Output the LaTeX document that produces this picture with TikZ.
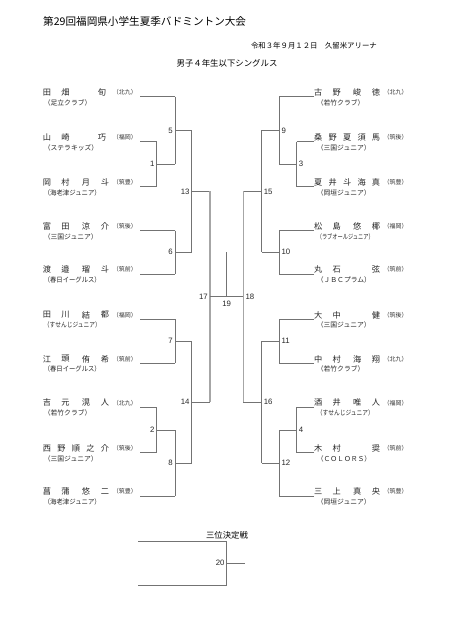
\documentclass[tikz,border=0pt]{standalone}
\usepackage{fontspec}
\usepackage{graphicx}
\setmainfont{Noto Sans CJK JP}
\newfontfamily\latf{Liberation Sans}
\newcommand\clubfit[1]{\sbox0{#1}\ifdim\wd0>57pt\resizebox{57pt}{\height}{\usebox0}\else\usebox0\fi}
\tikzset{
  nm/.style={font=\fontsize{8.2}{8.2}\selectfont, inner sep=0pt, text=black!85},
  aff/.style={font=\fontsize{6}{6}\selectfont, inner sep=0pt, text=black!80},
  club/.style={font=\fontsize{6.8}{6.8}\selectfont, inner sep=0pt, text=black!85},
  mlab/.style={font=\latf\fontsize{7.8}{7.8}\selectfont, inner sep=0pt, text=black!85},
  br/.style={draw=black!55, line width=0.7pt},
  brthick/.style={draw=black!35, line width=1.5pt},
}
% left player: id, line y, chars (x/char), affiliation, club
\newcommand\pL[5]{%
  \foreach \xx/\cc [count=\k] in {#3} {\node[nm] (#1c\k) at (\xx,{#2-4.4}) {\cc};}
  \node[aff,anchor=east] (#1a) at (137,{#2-4.4}) {（#4）};
  \node[club,anchor=west] (#1b) at (43.6,{#2+6}) {\clubfit{（#5）}};
  \coordinate (#1s) at (140,#2);
}
\newcommand\pR[5]{%
  \foreach \xx/\cc [count=\k] in {#3} {\node[nm] (#1c\k) at (\xx,{#2-4.4}) {\cc};}
  \node[aff,anchor=west] (#1a) at (383.5,{#2-4.4}) {（#4）};
  \node[club,anchor=west] (#1b) at (316.6,{#2+6}) {\clubfit{（#5）}};
  \coordinate (#1s) at (314,#2);
}
\begin{document}
\begin{tikzpicture}[x=1pt,y=-1pt]
\path[use as bounding box, fill=white] (0,0) rectangle (453,640);

% headings
\node[font=\fontsize{10.6}{10.6}\selectfont, inner sep=0pt, anchor=west] (title) at (43,21) {第29回福岡県小学生夏季バドミントン大会};
\node[font=\fontsize{7.4}{7.4}\selectfont, inner sep=0pt, anchor=east] (date) at (377,46) {令和３年９月１２日　久留米アリーナ};
\node[font=\fontsize{8.4}{8.4}\selectfont, inner sep=0pt] (sub) at (227,63.3) {男子４年生以下シングルス};

% left players
\pL{L1}{96.7}{47/田,65.5/畑,102/旬}{北九}{足立クラブ}
\pL{L2}{141.7}{47/山,65.5/崎,102/巧}{福岡}{ステラキッズ}
\pL{L3}{186.7}{47/岡,65.5/村,86/月,105/斗}{筑豊}{海老津ジュニア}
\pL{L4}{230.7}{47/富,65.5/田,86/涼,105/介}{筑後}{三国ジュニア}
\pL{L5}{274.0}{47/渡,65.5/邉,86/瑠,105/斗}{筑前}{春日イーグルス}
\pL{L6}{319.3}{47/田,65.5/川,86/結,105/都}{福岡}{すせんじジュニア}
\pL{L7}{363.3}{47/江,65.5/頭,86/侑,105/希}{筑前}{春日イーグルス}
\pL{L8}{407.3}{47/吉,65.5/元,86/滉,105/人}{北九}{若竹クラブ}
\pL{L9}{452.7}{47/西,61.5/野,76/順,90.5/之,105/介}{筑後}{三国ジュニア}
\pL{L10}{496.0}{47/菖,65.5/蒲,86/悠,105/二}{筑豊}{海老津ジュニア}

% right players
\pR{R1}{96.7}{318.3/古,336.8/野,357.2/峻,376/徳}{北九}{若竹クラブ}
\pR{R2}{141.7}{318.3/桑,332.8/野,347.2/夏,361.7/須,376/馬}{筑後}{三国ジュニア}
\pR{R3}{186.7}{318.3/夏,332.8/井,347.2/斗,361.7/海,376/真}{筑豊}{岡垣ジュニア}
\pR{R4}{230.7}{318.3/松,336.8/島,357.2/悠,376/椰}{福岡}{ラブオールジュニア}
\pR{R5}{274.0}{318.3/丸,336.8/石,376/弦}{筑前}{ＪＢＣプラム}
\pR{R6}{319.3}{318.3/大,336.8/中,376/健}{筑後}{三国ジュニア}
\pR{R7}{363.3}{318.3/中,336.8/村,357.2/海,376/翔}{北九}{若竹クラブ}
\pR{R8}{407.3}{318.3/酒,336.8/井,357.2/唯,376/人}{福岡}{すせんじジュニア}
\pR{R9}{452.7}{318.3/木,336.8/村,376/奨}{筑前}{ＣＯＬＯＲＳ}
\pR{R10}{496.0}{318.3/三,336.8/上,357.2/真,376/央}{筑豊}{岡垣ジュニア}

% ---------- left bracket coordinates ----------
\coordinate (L1e) at (175,96.7);
\coordinate (L2e) at (156.7,141.7);
\coordinate (L3e) at (156.7,186.7);
\coordinate (L4e) at (175,230.7);
\coordinate (L5e) at (175,274.0);
\coordinate (L6e) at (175,319.3);
\coordinate (L7e) at (175,363.3);
\coordinate (L8e) at (156.7,407.3);
\coordinate (L9e) at (156.7,452.7);
\coordinate (L10e) at (175,496.0);
\coordinate (m1i) at (156.7,164.2);  \coordinate (m1o) at (175,164.2);
\coordinate (m5i) at (175,130.4);    \coordinate (m5o) at (191.7,130.4);
\coordinate (m6i) at (175,252.3);    \coordinate (m6o) at (191.7,252.3);
\coordinate (m13i) at (191.7,191.4); \coordinate (m13o) at (210,191.4);
\coordinate (m7i) at (175,341.3);    \coordinate (m7o) at (191.7,341.3);
\coordinate (m2i) at (156.7,430);    \coordinate (m2o) at (175,430);
\coordinate (m8i) at (175,463);      \coordinate (m8o) at (191.7,463);
\coordinate (m14i) at (191.7,402.2); \coordinate (m14o) at (210,402.2);
\coordinate (m17i) at (210,296.8);

% ---------- right bracket coordinates ----------
\coordinate (R1e) at (279.3,96.7);
\coordinate (R2e) at (296.7,141.7);
\coordinate (R3e) at (296.7,186.7);
\coordinate (R4e) at (279.3,230.7);
\coordinate (R5e) at (279.3,274.0);
\coordinate (R6e) at (279.3,319.3);
\coordinate (R7e) at (279.3,363.3);
\coordinate (R8e) at (296.7,407.3);
\coordinate (R9e) at (296.7,452.7);
\coordinate (R10e) at (279.3,496.0);
\coordinate (m3i) at (296.7,164.2);  \coordinate (m3o) at (279.3,164.2);
\coordinate (m9i) at (279.3,130.4);  \coordinate (m9o) at (261.7,130.4);
\coordinate (m10i) at (279.3,252.3); \coordinate (m10o) at (261.7,252.3);
\coordinate (m15i) at (261.7,191.4); \coordinate (m15o) at (243.3,191.4);
\coordinate (m11i) at (279.3,341.3); \coordinate (m11o) at (261.7,341.3);
\coordinate (m4i) at (296.7,430);    \coordinate (m4o) at (279.3,430);
\coordinate (m12i) at (279.3,463);   \coordinate (m12o) at (261.7,463);
\coordinate (m16i) at (261.7,402.2); \coordinate (m16o) at (243.3,402.2);
\coordinate (m18i) at (243.3,296.8);
\coordinate (m19c) at (226.7,296.8); \coordinate (m19t) at (226.7,251.7);

% player lines
\foreach \p in {L1,L2,L3,L4,L5,L6,L7,L8,L9,L10,R1,R2,R3,R4,R5,R6,R7,R8,R9,R10}
  \draw[br] (\p s) -- (\p e);

% left matches
\draw[br] (L2e) -- (L3e) (m1i) -- (m1o);
\draw[br] (L1e) -- (m1o) (m5i) -- (m5o);
\draw[br] (L4e) -- (L5e) (m6i) -- (m6o);
\draw[br] (m5o) -- (m6o) (m13i) -- (m13o);
\draw[br] (L6e) -- (L7e) (m7i) -- (m7o);
\draw[br] (L8e) -- (L9e) (m2i) -- (m2o);
\draw[br] (m2o) -- (L10e) (m8i) -- (m8o);
\draw[br] (m7o) -- (m8o) (m14i) -- (m14o);
\draw[brthick] (m13o) -- (m14o);
% right matches
\draw[br] (R2e) -- (R3e) (m3i) -- (m3o);
\draw[br] (R1e) -- (m3o) (m9i) -- (m9o);
\draw[br] (R4e) -- (R5e) (m10i) -- (m10o);
\draw[br] (m9o) -- (m10o) (m15i) -- (m15o);
\draw[br] (R6e) -- (R7e) (m11i) -- (m11o);
\draw[br] (R8e) -- (R9e) (m4i) -- (m4o);
\draw[br] (m4o) -- (R10e) (m12i) -- (m12o);
\draw[br] (m11o) -- (m12o) (m16i) -- (m16o);
\draw[brthick] (m15o) -- (m16o);
% final
\draw[br] (m17i) -- (m18i);
\draw[br] (m19c) -- (m19t);

% match labels
\node[mlab,anchor=east] (n1) at ([xshift=-2pt]m1i) {1};
\node[mlab,anchor=east] (n5) at ([xshift=-2pt]m5i) {5};
\node[mlab,anchor=east] (n6) at ([xshift=-2pt]m6i) {6};
\node[mlab,anchor=east] (n13) at ([xshift=-2pt]m13i) {13};
\node[mlab,anchor=east] (n7) at ([xshift=-2pt]m7i) {7};
\node[mlab,anchor=east] (n2) at ([xshift=-2pt]m2i) {2};
\node[mlab,anchor=east] (n8) at ([xshift=-2pt]m8i) {8};
\node[mlab,anchor=east] (n14) at ([xshift=-2pt]m14i) {14};
\node[mlab,anchor=east] (n17) at ([xshift=-2pt]m17i) {17};
\node[mlab,anchor=west] (n3) at ([xshift=2pt]m3i) {3};
\node[mlab,anchor=west] (n9) at ([xshift=2pt]m9i) {9};
\node[mlab,anchor=west] (n10) at ([xshift=2pt]m10i) {10};
\node[mlab,anchor=west] (n15) at ([xshift=2pt]m15i) {15};
\node[mlab,anchor=west] (n11) at ([xshift=2pt]m11i) {11};
\node[mlab,anchor=west] (n4) at ([xshift=2pt]m4i) {4};
\node[mlab,anchor=west] (n12) at ([xshift=2pt]m12i) {12};
\node[mlab,anchor=west] (n16) at ([xshift=2pt]m16i) {16};
\node[mlab,anchor=west] (n18) at ([xshift=2pt]m18i) {18};
\node[mlab,anchor=north] (n19) at ([yshift=-4pt]m19c) {19};

% third place
\node[font=\fontsize{8.4}{8.4}\selectfont, inner sep=0pt] (third) at (227,535) {三位決定戦};
\coordinate (t1) at (138,541); \coordinate (t1e) at (226.7,541);
\coordinate (t2) at (138,585); \coordinate (t2e) at (226.7,585);
\coordinate (m20i) at (226.7,563); \coordinate (m20o) at (245,563);
\draw[br] (t1) -- (t1e) -- (t2e) -- (t2);
\draw[br] (m20i) -- (m20o);
\node[mlab,anchor=east] (n20) at ([xshift=-2pt]m20i) {20};
\end{tikzpicture}
\end{document}
